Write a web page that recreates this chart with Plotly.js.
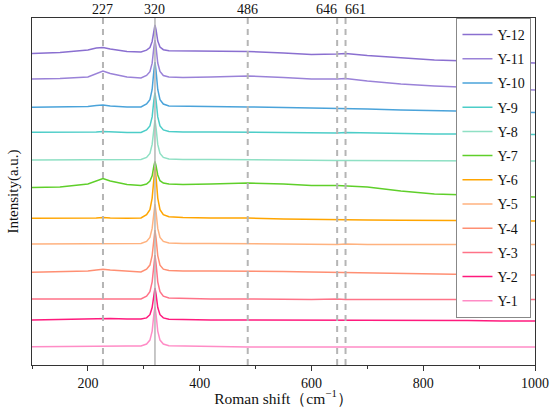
<!DOCTYPE html>
<html>
<head>
<meta charset="utf-8">
<script src="https://cdn.plot.ly/plotly-3.0.1.min.js"></script>
<style>html,body{margin:0;padding:0;background:#fff;}#chart{width:550px;height:407px;}</style>
</head>
<body>
<div id="chart"></div>
<script>
// Raman shift positions (cm^-1)
const shift = [100,150,200,215,227,240,270,295,305,311,315,318,320,322,325,329,335,345,370,420,486,550,600,646,661,700,760,820,880,940,1000];

// Intensities (a.u., stacked as shown)
const Y1  = [18.3,18.5,19,19.5,19.5,19.5,19,19,21,24.9,33.9,50.3,58.3,50.3,33.9,24.9,21,19.3,19,18.5,18,18,18,18,18,18,18,18,18,18,18];
const Y2  = [45,45.5,46,46.5,46.5,46.5,46,46,47.1,50.3,57.5,70.6,77,70.6,57.5,50.3,47.1,45.8,45.5,45,45,45,45,45,45,44.5,44.5,44.5,44.5,44,44];
const Y3  = [66,66,66.5,66.5,66.5,66.5,66,66,68.9,73.3,83.2,101.2,110,101.2,83.2,73.3,68.9,67.1,66.5,66,66,65.5,65.5,66,65.5,65.5,65.5,65.5,65.5,65.5,65.5];
const Y4  = [92.7,93,94,95,95.7,95,93.5,93,95.8,99.9,109.4,126.6,135,126.6,109.4,99.9,95.8,94.5,94,94,94,93.5,93,92.5,92.5,92,91.5,91,90.5,90,90];
const Y5  = [121,121,121,121,121,121,121,121.5,123.6,127.6,136.6,153,161,153,136.6,127.6,123.6,122,121.5,121.5,121,120.5,120.5,120.5,121,120.5,120.5,120.5,120.5,120.5,120.5];
const Y6  = [146.7,146.7,147,147,147.5,147,146.7,147,150.4,155.4,166.9,187.8,198,187.8,166.9,155.4,150.4,148.3,147.5,147,147,146,145.5,145.5,145.5,145,144.7,144.5,144.3,144,144];
const Y7  = [177.5,178,181,184,186.5,184,180.5,179.5,181,183.9,189.2,198.8,203.5,199,190,184.3,182,181,180.5,181,182,181,179.5,179.5,179,178,174,171,170,169,168];
const Y8  = [205,205,205,205,205,205,205,205.5,207.6,211.6,220.6,237,245,237,220.6,211.6,207.6,206,205.5,205.5,205,204.5,204.5,204.5,204.5,204.5,204,204,204,204,204];
const Y9  = [232.7,232.7,232.5,233,233.5,233,232.5,232.5,235.1,239.1,248.1,264.5,272.5,264.5,248.1,239.1,235.1,233.5,233,233,232.5,232,232,232,232.5,232,231.5,231,231,230.5,230.5];
const Y10 = [257.7,258,258.5,259.5,260,259,258,258,261,265.4,275.5,294,303,294,275.5,265.4,261,259.1,258.8,258.5,258,257.5,257,257,257,256,255,254.5,254,253,252.5];
const Y11 = [286,286.5,288,291,294,291.5,288,287,289.5,293.3,301.8,317.4,325,317.6,302,293.5,289.5,288,287.5,288,289,287.5,286,286,286.5,284,281,279,277.5,276,275];
const Y12 = [311.5,312.5,315,317,317.5,316,313.5,313,314.8,317.5,323.5,334.6,340,335,324,318,315.3,314.2,314,313.5,313.5,312,310.5,311,311.5,309.5,307,305,304,303,302];

const seriesNames = ['Y-1','Y-2','Y-3','Y-4','Y-5','Y-6','Y-7','Y-8','Y-9','Y-10','Y-11','Y-12'];
const seriesValues = [Y1,Y2,Y3,Y4,Y5,Y6,Y7,Y8,Y9,Y10,Y11,Y12];
const seriesColors = ['#ff8cc6','#ff1a7d','#ff7388','#ff8f73','#ffb27f','#ffa500','#5fcf2a','#8fe0c4','#4ccdc8','#4aa3da','#9a82d8','#8a6fd0'];

// Marked peak positions
const peakPos = [227,320,486,646,661];
const peakLabels = ['227','320','486','646','661'];
const labelAnchor = ['center','center','center','right','left'];
const labelShift = [0,0,0,2,-3];

const serif = 'Liberation Serif, Times New Roman, serif';

const traces = [];
for (let i = seriesNames.length - 1; i >= 0; i--) {
  traces.push({
    x: shift, y: seriesValues[i], name: seriesNames[i],
    type: 'scatter', mode: 'lines',
    line: {color: seriesColors[i], width: 1.5},
    legendgroup: seriesNames[i]
  });
}

const shapes = peakPos.map(p => ({
  type: 'line', xref: 'x', yref: 'paper', x0: p, x1: p, y0: 0, y1: 1,
  layer: 'above',
  line: {color: '#b5b5b5', width: p === 320 ? 1.5 : 2, dash: p === 320 ? 'solid' : '6px,5px'}
}));

const annotations = peakPos.map((p, i) => ({
  x: p, xref: 'x', y: 1, yref: 'paper', yanchor: 'bottom', xanchor: labelAnchor[i],
  xshift: labelShift[i],
  text: peakLabels[i], showarrow: false, yshift: -1,
  font: {family: serif, size: 14, color: '#111'}
}));

const layout = {
  width: 550, height: 407,
  margin: {l: 32, r: 15, t: 18, b: 42},
  paper_bgcolor: '#fff', plot_bgcolor: '#fff',
  showlegend: true,
  legend: {
    x: 0.993, y: 1, xanchor: 'right', yanchor: 'top',
    bgcolor: '#fff', bordercolor: '#888', borderwidth: 1,
    font: {family: serif, size: 14, color: '#111'},
    traceorder: 'grouped', tracegroupgap: 3, itemwidth: 30
  },
  xaxis: {
    range: [100, 1000], dtick: 200, tick0: 0,
    ticks: 'outside', ticklen: 5, tickcolor: '#333',
    showline: true, linecolor: '#333', linewidth: 1, mirror: true,
    showgrid: false, zeroline: false,
    minor: {dtick: 100, ticklen: 3, tickcolor: '#333', ticks: 'outside'},
    tickfont: {family: serif, size: 14, color: '#111'},
    title: {text: 'Roman shift（cm<sup>−1</sup>）', font: {family: serif, size: 15.5, color: '#111'}, standoff: 3}
  },
  yaxis: {
    range: [0, 347], showticklabels: false, ticks: '',
    showline: true, linecolor: '#333', linewidth: 1, mirror: true,
    showgrid: false, zeroline: false,
    title: {text: 'Intensity(a.u.)', font: {family: serif, size: 15, color: '#111'}, standoff: 8}
  },
  shapes: shapes,
  annotations: annotations
};

Plotly.newPlot('chart', traces, layout, {displayModeBar: false, staticPlot: true});
</script>
</body>
</html>
